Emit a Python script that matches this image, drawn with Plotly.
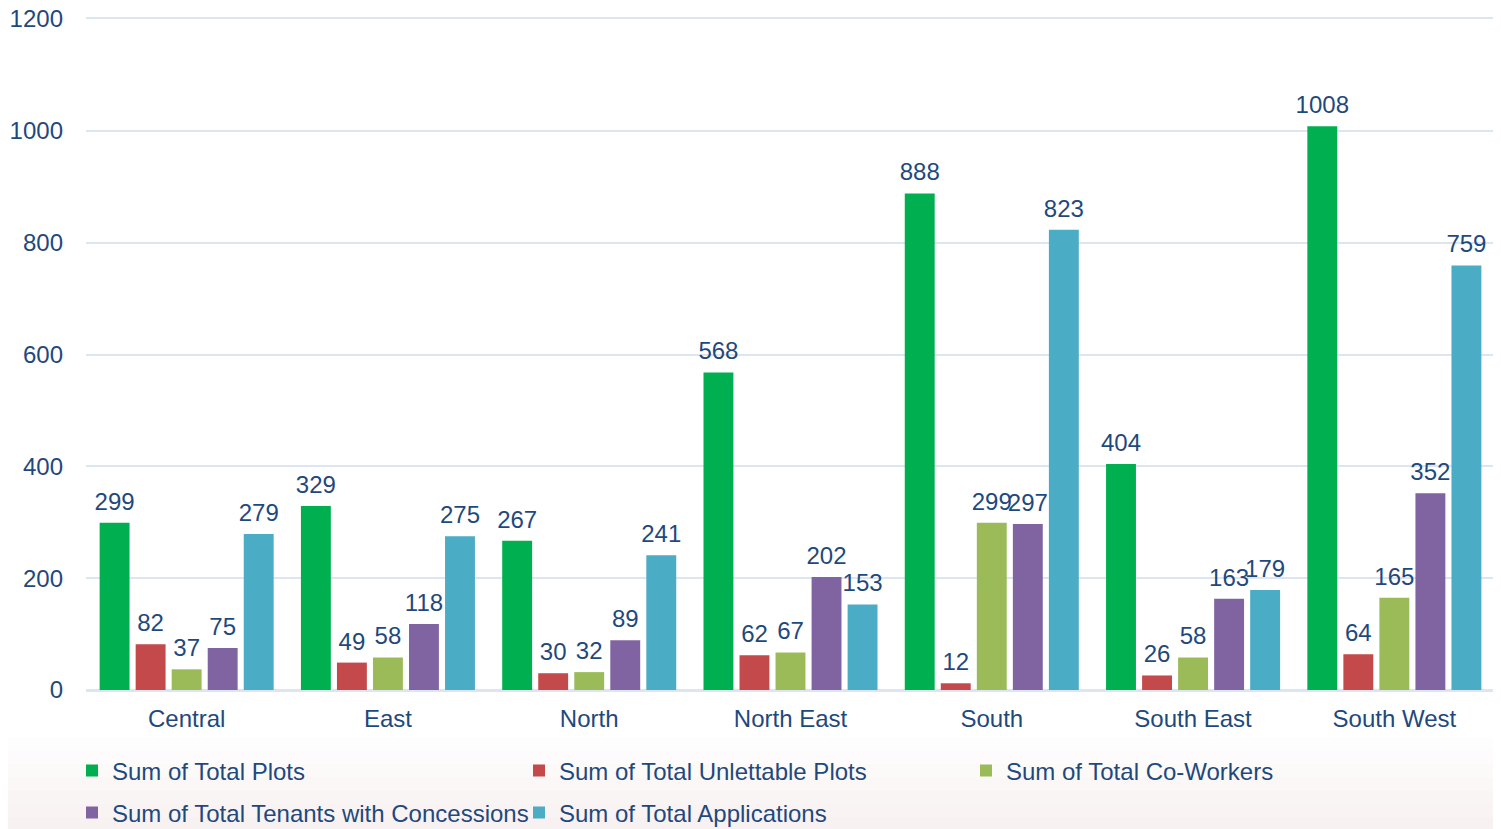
import plotly.graph_objects as go

regions = ["Central", "East", "North", "North East", "South", "South East", "South West"]
total_plots = [299, 329, 267, 568, 888, 404, 1008]
unlettable_plots = [82, 49, 30, 62, 12, 26, 64]
co_workers = [37, 58, 32, 67, 299, 58, 165]
tenants_concessions = [75, 118, 89, 202, 297, 163, 352]
applications = [279, 275, 241, 153, 823, 179, 759]
y_ticks = [0, 200, 400, 600, 800, 1000, 1200]

series = [
    ("Sum of Total Plots", total_plots, "#00B050", "legend"),
    ("Sum of Total Unlettable Plots", unlettable_plots, "#C4494A", "legend"),
    ("Sum of Total Co-Workers", co_workers, "#9BBB59", "legend"),
    ("Sum of Total Tenants with Concessions", tenants_concessions, "#8064A2", "legend2"),
    ("Sum of Total Applications", applications, "#4BACC6", "legend2"),
]

TXT = "#1F497D"
GRID = "#DCE6F2"
FONT = "Liberation Sans, Arial, sans-serif"

fig = go.Figure()
for name, vals, color, leg in series:
    fig.add_trace(go.Bar(
        name=name, x=regions, y=vals,
        marker=dict(color=color, line=dict(width=0)),
        texttemplate="<span style='font-size:24px'>%{y}</span><br> ",
        textposition="outside", cliponaxis=False, constraintext="none",
        textfont=dict(size=7, color=TXT, family=FONT),
        legend=leg,
    ))

# very subtle warm tint near the bottom of the page
for i in range(8):
    fig.add_shape(type="rect", xref="paper", yref="paper",
                  x0=-0.07, x1=1.02, y0=-0.23, y1=-0.07 - 0.02 * i,
                  fillcolor="rgba(235,215,212,0.04)", line=dict(width=0), layer="below")

legend_common = dict(orientation="h", xref="container", yref="container",
                     xanchor="left", yanchor="middle",
                     entrywidth=402, entrywidthmode="pixels", bgcolor="rgba(0,0,0,0)",
                     font=dict(size=24, color=TXT, family=FONT), itemwidth=30,
                     traceorder="normal")

fig.update_layout(
    width=1501, height=829,
    margin=dict(l=78, r=14, t=11, b=147, autoexpand=False),
    paper_bgcolor="white", plot_bgcolor="white",
    font=dict(family=FONT, size=24, color=TXT),
    barmode="group", bargap=0.105, bargroupgap=0.17,
    showlegend=True,
    legend=dict(x=64 / 1501, y=1 - 763 / 829, **legend_common),
    legend2=dict(x=64 / 1501, y=1 - 805 / 829, **legend_common),
)
fig.update_yaxes(range=[0, 1200], tickvals=y_ticks, showgrid=True, gridcolor=GRID, gridwidth=2,
                 zeroline=True, zerolinecolor=GRID, zerolinewidth=2, showline=False,
                 ticks="", ticklabelstandoff=22, ticklabeloverflow="allow",
                 tickfont=dict(size=24, color=TXT))
fig.update_xaxes(showline=True, mirror=True, linecolor=GRID, linewidth=2,
                 ticks="", ticklabelstandoff=6, tickfont=dict(size=24, color=TXT))

fig.write_html("out.html")
